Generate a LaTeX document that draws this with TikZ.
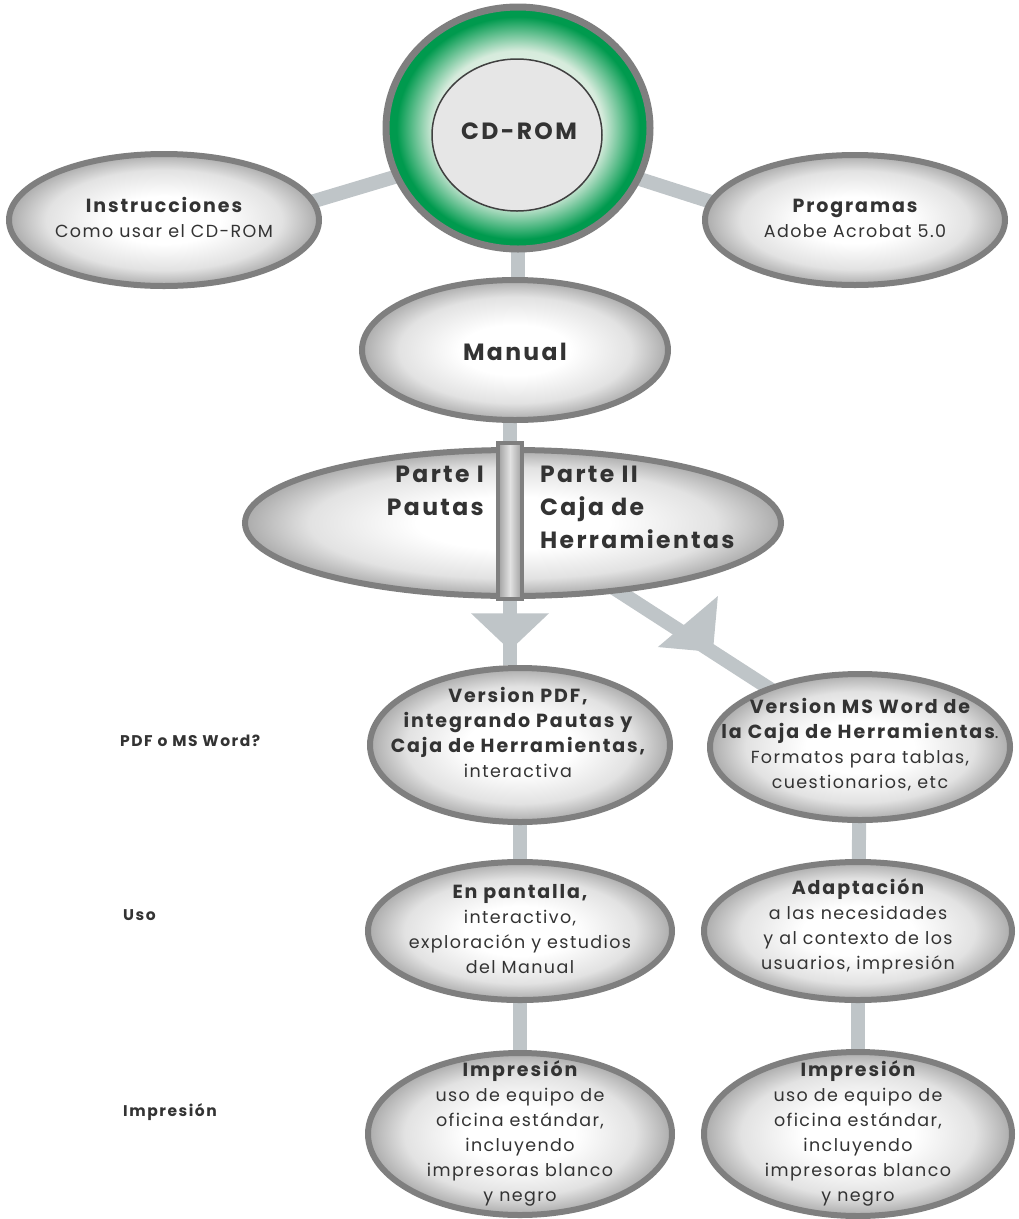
\documentclass[tikz,border=0pt]{standalone}
\usepackage{fontspec}
\setmainfont{Poppins}[LetterSpace=8,BoldFeatures={LetterSpace=10}]
\usetikzlibrary{shapes.geometric,backgrounds}
\definecolor{txtcol}{HTML}{333333}
\definecolor{rimcol}{HTML}{7F7F7F}
\definecolor{linkcol}{HTML}{BFC5C8}
\definecolor{cdgreen}{HTML}{009A4E}
\definecolor{cdlight}{HTML}{D6EBDC}
\definecolor{cdface}{HTML}{E6E6E6}
\definecolor{ellin}{HTML}{FFFFFF}
\definecolor{ellmid}{HTML}{E2E2E2}
\definecolor{ellout}{HTML}{ABABAB}
\definecolor{barout}{HTML}{9E9E9E}
\definecolor{barin}{HTML}{E2E2E2}
\pgfdeclareradialshading{ellshade}{\pgfpointorigin}{color(0bp)=(ellin); color(9bp)=(ellin); color(19bp)=(ellmid); color(25bp)=(ellout); color(50bp)=(ellout)}
\pgfdeclareradialshading{ringshade}{\pgfpointorigin}{color(0bp)=(white); color(16bp)=(cdlight); color(23bp)=(cdgreen); color(50bp)=(cdgreen)}
\newcommand\hd[1]{{\fontsize{19}{25}\selectfont\bfseries #1}}

\begin{document}
\begin{tikzpicture}[x=1pt,y=-1pt,
  ell/.style={ellipse,draw=rimcol,line width=6pt,shading=ellshade,inner sep=0pt},
  ring/.style={ellipse,draw=rimcol,line width=7pt,shading=ringshade,inner sep=0pt},
  disc/.style={ellipse,draw=black!75,line width=1.5pt,fill=cdface,inner sep=0pt},
  txt/.style={align=center,text=txtcol,font=\fontsize{17.5}{25}\selectfont,inner sep=0pt},
  big/.style={txt,font=\bfseries\fontsize{23.5}{33}\selectfont},
  side/.style={anchor=west,text=txtcol,font=\bfseries\fontsize{15.5}{20}\selectfont,inner sep=0pt},
  conn/.style={draw=linkcol,line width=14pt},
  tipfill/.style={fill=linkcol},
  barbox/.style={rectangle,draw=rimcol,line width=4pt,left color=barout,right color=barout,
    middle color=barin,minimum width=24pt,minimum height=156pt,inner sep=0pt}]
\useasboundingbox (0,0) rectangle (1019,1219);

% top
\node[ring,minimum width=264pt,minimum height=242pt] (cd) at (518,128) {};
\node[disc,minimum width=170pt,minimum height=152pt] (cdin) at (517,135) {};
\node[big] (cdt) at (519,131) {CD-ROM};
\node[ell,minimum width=310pt,minimum height=132pt] (inst) at (164,220) {};
\node[txt] (instt) at (164,217) {\hd{Instrucciones}\\Como usar el CD-ROM};
\node[ell,minimum width=300pt,minimum height=130pt] (prog) at (855,220) {};
\node[txt] (progt) at (855,218) {\hd{Programas}\\Adobe Acrobat 5.0};

% manual
\node[ell,minimum width=306pt,minimum height=140pt] (man) at (515,350) {};
\node[big] (mant) at (515,352) {Manual};
\node[ell,minimum width=536pt,minimum height=146pt] (parte) at (513,523) {};
\node[barbox] (bar) at (510,521) {};
\node[big,align=right,anchor=north east] (p1) at (484,466) {Parte I\\Pautas};
\node[big,align=left,anchor=north west] (p2) at (540,466) {Parte II\\Caja de\\Herramientas};

% versions
\node[ell,minimum width=300pt,minimum height=154pt] (pdf) at (520,745) {};
\node[txt] (pdft) at (518,732) {\hd{Version PDF,}\\\hd{integrando Pautas y}\\
  \hd{Caja de Herramientas,}\\interactiva};
\node[ell,minimum width=300pt,minimum height=146pt] (msw) at (860,747) {};
\node[txt] (mswt) at (860,745) {\hd{Version MS Word de}\\\hd{la Caja de Herramientas}.\\
  Formatos para tablas,\\cuestionarios, etc};

% uso
\node[ell,minimum width=304pt,minimum height=138pt] (uso) at (520,931) {};
\node[txt] (usot) at (520,929) {\hd{En pantalla,}\\interactivo,\\exploración y estudios\\del Manual};
\node[ell,minimum width=308pt,minimum height=138pt] (adap) at (858,931) {};
\node[txt] (adapt) at (858,926) {\hd{Adaptación}\\a las necesidades\\y al contexto de los\\usuarios, impresión};

% impresion
\node[ell,minimum width=304pt,minimum height=162pt] (imp1) at (520,1134) {};
\node[txt] (imp1t) at (520,1133) {\hd{Impresión}\\uso de equipo de\\oficina estándar,\\incluyendo\\impresoras blanco\\y negro};
\node[ell,minimum width=308pt,minimum height=164pt] (imp2) at (858,1134) {};
\node[txt] (imp2t) at (858,1133) {\hd{Impresión}\\uso de equipo de\\oficina estándar,\\incluyendo\\impresoras blanco\\y negro};

% row labels
\node[side] (lab1) at (120,741) {PDF o MS Word?};
\node[side] (lab2) at (123,915) {Uso};
\node[side] (lab3) at (123,1112) {Impresión};

\begin{scope}[on background layer]
\draw[conn] ([yshift=-12pt]cd.center) -- ([yshift=-26pt]inst.center);
\draw[conn] ([yshift=-12pt]cd.center) -- ([yshift=-28pt]prog.center);
\draw[conn] (cd.center) -- (cd.center |- man.center);
\draw[conn] (bar.north |- man.center) -- (bar.north);
\draw[conn] (bar.south) -- (bar.south |- pdf.north) coordinate[pos=0.77] (tip1);
\draw[conn] (parte.center) -- (msw.center) coordinate[pos=0.576] (tip2);
\fill[tipfill] (tip1) -- ++(-39,-37) -- ++(78,0) -- cycle;
\fill[tipfill] (tip2) -- ++(5,-56) -- ++(-60,51) -- cycle;
\draw[conn] (pdf.center) -- (uso.center);
\draw[conn] (uso.center) -- (imp1.center);
\draw[conn] (msw.center) -- (adap.center);
\draw[conn] (adap.center) -- (imp2.center);
\end{scope}
\end{tikzpicture}
\end{document}
